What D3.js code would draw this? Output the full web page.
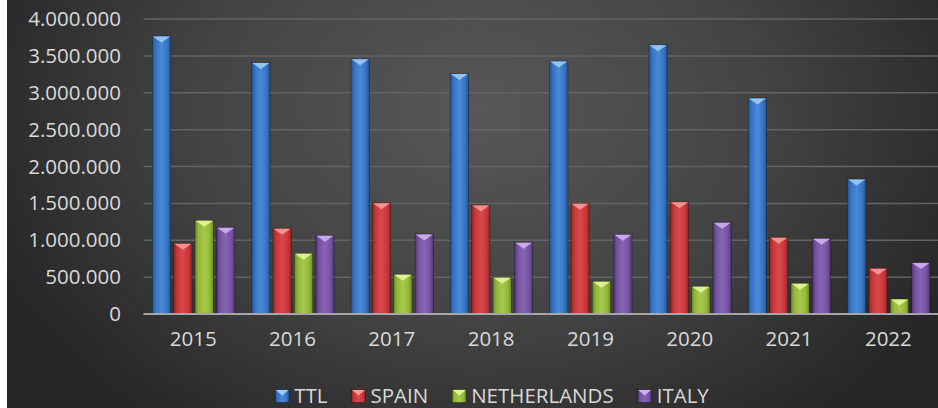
<!DOCTYPE html>
<html>
<head>
<meta charset="utf-8">
<script src="https://cdn.jsdelivr.net/npm/d3@7"></script>
<style>
  html, body { margin: 0; padding: 0; background: #fff; }
  svg { display: block; }
  text { font-family: "Open Sans", "Liberation Sans", sans-serif; fill: #d9d9d9; }
</style>
</head>
<body>
<script>
// chart data
var years = ['2015', '2016', '2017', '2018', '2019', '2020', '2021', '2022'];
var series = ['TTL', 'SPAIN', 'NETHERLANDS', 'ITALY'];
var ttl = [3770000, 3410000, 3460000, 3260000, 3430000, 3650000, 2930000, 1830000];
var spain = [958000, 1162000, 1509000, 1478000, 1501000, 1523000, 1040000, 620000];
var netherlands = [1270000, 823000, 538000, 497000, 443000, 375000, 416000, 203000];
var italy = [1175000, 1067000, 1085000, 972000, 1080000, 1243000, 1026000, 700000];
var y_ticks = [0, 500000, 1000000, 1500000, 2000000, 2500000, 3000000, 3500000, 4000000];

var values = [ttl, spain, netherlands, italy];

// colours per series: dark edge, base, light middle, bevel highlight
var colors = {
  TTL: ['#24528f', '#3673c4', '#4a8ad6', '#9cccf4'],
  SPAIN: ['#8f2426', '#c7373a', '#d9494b', '#f59a98'],
  NETHERLANDS: ['#6a8a1f', '#93b63a', '#a8ca4c', '#e4f59a'],
  ITALY: ['#4f3472', '#7552a2', '#8864b4', '#cfb0ef']
};

var width = 938, height = 408;
var plot_left = 143.5, plot_right = 938, plot_top = 19, plot_bottom = 314;
var legend_base = 402.5;

var svg = d3.select('body').append('svg').attr('width', width).attr('height', height);
var defs = svg.append('defs');

// background radial gradient
var bg = defs.append('radialGradient').attr('id', 'bg')
  .attr('gradientUnits', 'userSpaceOnUse')
  .attr('cx', 480).attr('cy', 110).attr('r', 520)
  .attr('gradientTransform', 'translate(480,110) scale(1,0.75) translate(-480,-110)');
bg.append('stop').attr('offset', '0%').attr('stop-color', '#575757');
bg.append('stop').attr('offset', '55%').attr('stop-color', '#434343');
bg.append('stop').attr('offset', '100%').attr('stop-color', '#272727');

series.forEach(function(s, i) {
  var c = colors[s];
  var g = defs.append('linearGradient').attr('id', 'bar' + i)
    .attr('x1', '0%').attr('x2', '100%').attr('y1', '0%').attr('y2', '0%');
  [[0, c[0]], [0.18, c[1]], [0.5, c[2]], [0.82, c[1]], [1, c[0]]].forEach(function(st) {
    g.append('stop').attr('offset', st[0]).attr('stop-color', st[1]);
  });
});

svg.append('rect').attr('x', 7).attr('y', 0).attr('width', width - 7).attr('height', height)
  .attr('fill', 'url(#bg)');

// scales
var x = d3.scaleBand().domain(years).range([plot_left, plot_right]);
var x_inner = d3.scaleBand().domain(series).range([8.8, 91.3]).paddingInner(0.14);
var y = d3.scaleLinear().domain([0, 4000000]).range([plot_bottom, plot_top]);

// gridlines
svg.append('g').selectAll('line').data(y_ticks.slice(1)).enter().append('line')
  .attr('x1', plot_left).attr('x2', plot_right)
  .attr('y1', d => y(d)).attr('y2', d => y(d))
  .attr('stroke', '#636363').attr('stroke-width', 1.5);

// y axis labels
var fmt = d => d3.format(',')(d).replace(/,/g, '.');
var yaxis = svg.append('g').attr('transform', 'translate(121,0)')
  .call(d3.axisLeft(y).tickValues(y_ticks).tickFormat(fmt).tickSize(0).tickPadding(0));
yaxis.select('.domain').remove();
yaxis.selectAll('text').attr('font-size', 20.5).attr('fill', '#d9d9d9')
  .attr('font-family', '"Open Sans", sans-serif');

// bars
var flat = [];
years.forEach(function(yr, j) {
  series.forEach(function(s, i) { flat.push({year: yr, series: s, idx: i, value: values[i][j]}); });
});

var bw = x_inner.bandwidth();
var bars = svg.append('g').selectAll('g').data(flat).enter().append('g')
  .attr('transform', d => 'translate(' + (x(d.year) + x_inner(d.series)) + ',0)');

bars.append('rect')
  .attr('x', 0).attr('width', bw)
  .attr('y', d => y(d.value)).attr('height', d => y(0) - y(d.value))
  .attr('fill', d => 'url(#bar' + d.idx + ')')
  .attr('stroke', 'rgba(0,0,0,0.35)').attr('stroke-width', 0.8);

// bevel: light triangle on top of each bar
bars.append('path')
  .attr('d', function(d) {
    var t = y(d.value), h = Math.min(6.5, (y(0) - t) / 2);
    return 'M0.6,' + (t + 0.5) + 'L' + (bw - 0.6) + ',' + (t + 0.5) + 'L' + (bw / 2) + ',' + (t + h) + 'Z';
  })
  .attr('fill', d => colors[d.series][3]).attr('opacity', 0.9);

// zero axis line
svg.append('line').attr('x1', plot_left).attr('x2', plot_right)
  .attr('y1', y(0)).attr('y2', y(0))
  .attr('stroke', '#a6a6a6').attr('stroke-width', 2);

// x axis labels
var xaxis = svg.append('g').attr('transform', 'translate(0,' + (y(0) + 17) + ')')
  .call(d3.axisBottom(x).tickSize(0).tickPadding(0));
xaxis.select('.domain').remove();
xaxis.selectAll('text').attr('font-size', 20.5).attr('fill', '#d9d9d9')
  .attr('font-family', '"Open Sans", sans-serif');

// legend
var legend = svg.append('g');
var items = legend.selectAll('g').data(series).enter().append('g');
items.append('text').text(d => d).attr('x', 19).attr('y', legend_base).attr('font-size', 20.5);
var widths = [];
items.each(function() { widths.push(d3.select(this).select('text').node().getComputedTextLength()); });
var gap = 24, total = d3.sum(widths) + series.length * 19 + (series.length - 1) * gap;
var pos = 492 - total / 2;
items.attr('transform', function(d, i) {
  var p = pos; pos += 19 + widths[i] + gap; return 'translate(' + p + ',0)';
});
items.append('rect').attr('x', 0).attr('y', legend_base - 13).attr('width', 14).attr('height', 13)
  .attr('fill', (d, i) => 'url(#bar' + i + ')')
  .attr('stroke', 'rgba(0,0,0,0.4)').attr('stroke-width', 0.8);
items.append('path')
  .attr('d', 'M0.6,' + (legend_base - 12.5) + 'L13.4,' + (legend_base - 12.5) + 'L7,' + (legend_base - 7) + 'Z')
  .attr('fill', d => colors[d][3]);
</script>
</body>
</html>
